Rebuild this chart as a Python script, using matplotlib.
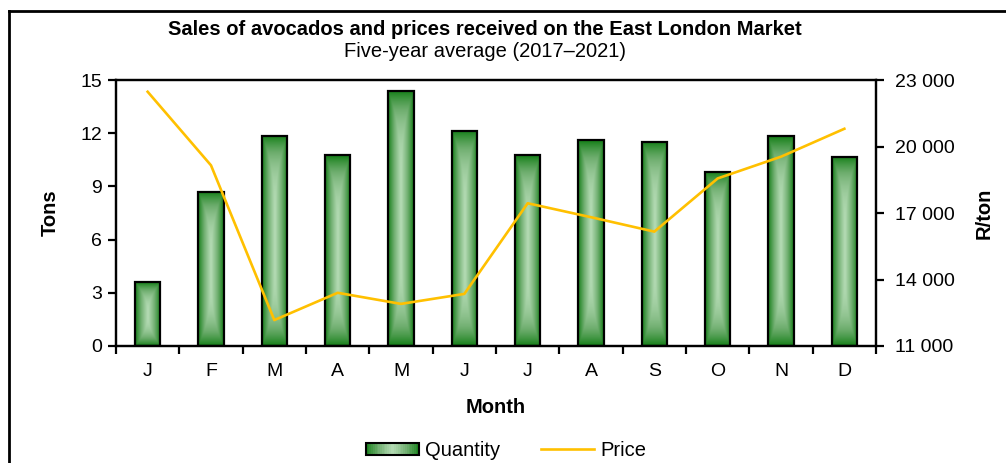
import numpy as np
import matplotlib.pyplot as plt
from matplotlib.colors import LinearSegmentedColormap
from matplotlib.legend_handler import HandlerBase
from matplotlib.patches import Rectangle
from matplotlib.lines import Line2D

plt.rcParams['font.family'] = ['Liberation Sans', 'DejaVu Sans']

months = ['J', 'F', 'M', 'A', 'M', 'J', 'J', 'A', 'S', 'O', 'N', 'D']
quantity = [3.6, 8.7, 11.85, 10.77, 14.4, 12.15, 10.75, 11.6, 11.52, 9.82, 11.84, 10.66]
price = [22470, 19150, 12170, 13400, 12900, 13350, 17440, 16810, 16160, 18560, 19540, 20800]
tons_ticks = [0, 3, 6, 9, 12, 15]
price_ticks = [11000, 14000, 17000, 20000, 23000]

dark_green = '#17801a'
light_green = '#b4dbb4'
gold = '#FFC000'
bar_cmap = LinearSegmentedColormap.from_list('bar', [light_green, '#6fae6f', dark_green])


class GradientHandler(HandlerBase):
    def create_artists(self, legend, orig_handle, xdescent, ydescent,
                       width, height, fontsize, trans):
        artists = []
        n = 30
        for i in range(n):
            t = abs((i + 0.5) / n - 0.5) * 2
            artists.append(Rectangle((-xdescent + width * i / n, -ydescent), width / n + 0.3, height,
                                     facecolor=bar_cmap(t ** 1.1), edgecolor='none', transform=trans))
        artists.append(Rectangle((-xdescent, -ydescent), width, height, facecolor='none',
                                 edgecolor='black', linewidth=1.5, transform=trans))
        return artists


fig = plt.figure(figsize=(10.06, 4.63), dpi=100)
ax = fig.add_axes([0.1153, 0.2527, 0.7555, 0.5745])
ax2 = ax.twinx()

x = np.arange(len(months))
bars = ax.bar(x, quantity, width=0.4, color='none', edgecolor='black', linewidth=1.6, zorder=3)

# gradient fill: light centre, dark edges
gx = np.linspace(-1, 1, 60)
gy = np.linspace(-1, 1, 120)
GX, GY = np.meshgrid(gx, gy)
for b in bars:
    x0, w, h = b.get_x(), b.get_width(), b.get_height()
    vals = np.maximum(np.abs(GX), np.abs(GY) ** (1.5 + h / 6)) ** 1.1
    im = ax.imshow(vals, extent=[x0, x0 + w, 0, h], cmap=bar_cmap, vmin=0, vmax=1,
                   aspect='auto', origin='lower', zorder=2, interpolation='bilinear')
    im.set_clip_path(b)

ax.set_xlim(-0.5, len(months) - 0.5)
ax.set_ylim(0, 15)
ax.set_yticks(tons_ticks)
ax.set_xticks(x)
ax.set_xticklabels(months)
ax.set_xticks(np.arange(-0.5, len(months), 1), minor=True)
ax.tick_params(axis='x', which='major', length=0, pad=12, labelsize=14)
ax.tick_params(axis='x', which='minor', length=6, width=1.6, direction='out')
ax.tick_params(axis='y', length=6, width=1.6, direction='out', labelsize=14, pad=4)
ax.set_ylabel('Tons', fontsize=14.5, fontweight='bold', labelpad=15)
ax.set_xlabel('Month', fontsize=14.5, fontweight='bold', labelpad=13)

ax2.plot(x, price, color=gold, linewidth=1.9, zorder=4)
ax2.set_ylim(11000, 23000)
ax2.set_yticks(price_ticks)
ax2.set_yticklabels([f'{v:,}'.replace(',', ' ') for v in price_ticks])
ax2.tick_params(axis='y', length=6, width=1.6, direction='out', labelsize=14, pad=8)
ax2.set_ylabel('R/ton', fontsize=14.5, fontweight='bold', labelpad=14)

for a in (ax, ax2):
    for s in a.spines.values():
        s.set_linewidth(1.6)

fig.text(0.482, 0.937, 'Sales of avocados and prices received on the East London Market',
         ha='center', va='center', fontsize=14.5, fontweight='bold')
fig.text(0.482, 0.888, 'Five-year average (2017\u20132021)', ha='center', va='center', fontsize=14.5)

handles = [Rectangle((0, 0), 1, 1), Line2D([0], [0], color=gold, linewidth=1.9)]
fig.legend(handles, ['Quantity', 'Price'], handler_map={Rectangle: GradientHandler()},
           loc='center', bbox_to_anchor=(0.503, 0.027), ncol=2, frameon=False,
           fontsize=14.5, handlelength=2.65, handleheight=0.6, handletextpad=0.3,
           columnspacing=2.0)

# outer frame (cut off at the right and bottom)
fig.add_artist(Line2D([9 / 1006, 9 / 1006], [0, 1 - 11 / 463], color='black', linewidth=2,
                      transform=fig.transFigure))
fig.add_artist(Line2D([9 / 1006, 1], [1 - 11 / 463, 1 - 11 / 463], color='black', linewidth=2,
                      transform=fig.transFigure))

fig.savefig('out.png', dpi=100)
